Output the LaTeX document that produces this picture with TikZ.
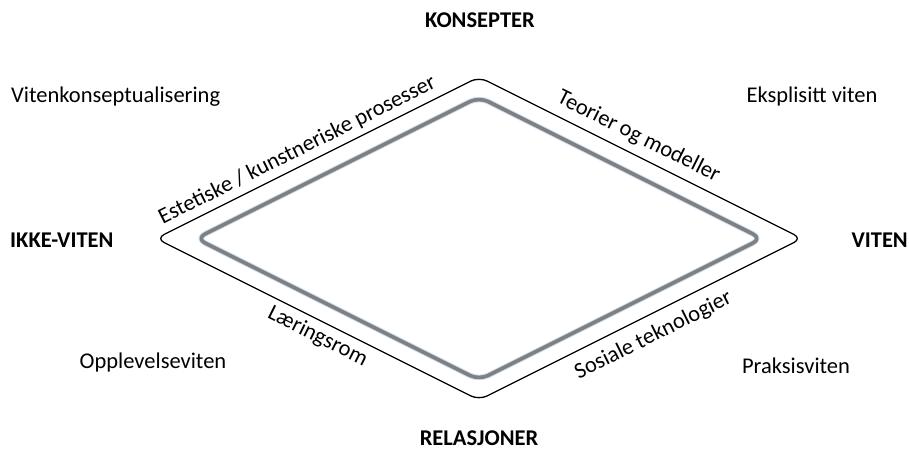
\documentclass[tikz,border=0pt]{standalone}
\usepackage{fontspec}
\setmainfont{Carlito}
\definecolor{glowblue}{RGB}{205,222,242}
\begin{document}
\begin{tikzpicture}[x=1pt,y=-1pt,
  txt/.style={font=\fontsize{22.5}{27}\selectfont, inner sep=0pt},
  pole/.style={txt, font=\fontsize{22.5}{27}\selectfont\bfseries},
  outerline/.style={draw=black, line width=1.3pt, rounded corners=9pt, line join=round},
  innerglow/.style={draw=glowblue, line width=5.6pt, rounded corners=10pt, line join=round},
  innerline/.style={draw=black!50, line width=3.6pt, rounded corners=10pt, line join=round}]
\useasboundingbox (0,0) rectangle (909,450);

% outer and inner diamonds
\coordinate (oL) at (156,238.5);
\coordinate (oT) at (479,77);
\coordinate (oR) at (802,238.5);
\coordinate (oB) at (479,400);
\coordinate (iL) at (196,238.5);
\coordinate (iT) at (479,97);
\coordinate (iR) at (762,238.5);
\coordinate (iB) at (479,380);

\draw[outerline] (oL) -- (oT) -- (oR) -- (oB) -- cycle;
\draw[innerglow] (iL) -- (iT) -- (iR) -- (iB) -- cycle;
\draw[innerline] (iL) -- (iT) -- (iR) -- (iB) -- cycle;

% labels along the edges
\node[txt, anchor=base, rotate=26.57]  (estetiske) at (300,156) {Estetiske / kunstneriske prosesser};
\node[txt, anchor=base, rotate=-26.57] (teorier)   at (636,142) {Teorier og modeller};
\node[txt, anchor=base, rotate=-26.57] (laering)   at (315,342) {Læringsrom};
\node[txt, anchor=base, rotate=26.57]  (sosiale)   at (656,341) {Sosiale teknologier};

% poles
\node[pole, anchor=base] (konsepter)  at (480,27)  {KONSEPTER};
\node[pole, anchor=base] (relasjoner) at (479,445.5) {RELASJONER};
\node[pole, anchor=base west] (ikkeviten) at (10,247) {IKKE-VITEN};
\node[pole, anchor=base east] (viten) at (908,247) {VITEN};

% quadrants
\node[txt, anchor=base west] (vitenkons) at (11,102) {Vitenkonseptualisering};
\node[txt, anchor=base] (eksplisitt) at (812,102) {Eksplisitt viten};
\node[txt, anchor=base] (opplevelse) at (153,368) {Opplevelseviten};
\node[txt, anchor=base] (praksis)    at (796,373) {Praksisviten};
\end{tikzpicture}
\end{document}
